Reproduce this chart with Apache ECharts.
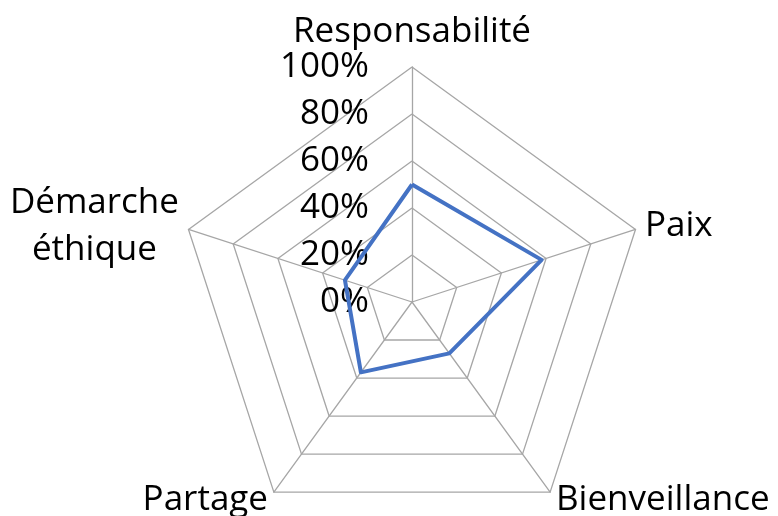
<!DOCTYPE html>
<html><head><meta charset="utf-8">
<script src="https://cdn.jsdelivr.net/npm/echarts@6/dist/echarts.min.js"></script>
<style>html,body{margin:0;padding:0;background:#fff;}#c{width:778px;height:516px;}</style>
</head><body><div id="c"></div>
<script>
// Categories in clockwise order starting at the top
const categories = ['Responsabilité', 'Paix', 'Bienveillance', 'Partage', 'Démarche\néthique'];
const values = [50, 58, 27, 37, 30];
const maxValue = 100;
const tickLabels = ['0%', '20%', '40%', '60%', '80%', '100%'];

// ECharts radar lays indicators counter-clockwise; reorder to match
const order = [0, 4, 3, 2, 1];
const FONT = 'Open Sans';
const FS = 35;
const indicators = order.map((i, k) => ({
  name: categories[i], min: 0, max: maxValue,
  axisLabel: { show: k === 0 }
}));
const seriesData = order.map(i => values[i]);

const chart = echarts.init(document.getElementById('c'), null, { renderer: 'canvas' });
chart.setOption({
  animation: false,
  radar: {
    center: [412, 302],
    radius: 235,
    startAngle: 90,
    splitNumber: 5,
    shape: 'polygon',
    indicator: indicators,
    axisName: {
      color: '#000', fontFamily: FONT, fontSize: FS,
      formatter: v => v.split('\n').map(s => '{c|' + s + '}').join('\n'),
      rich: { c: { align: 'center', fontFamily: FONT, fontSize: FS, color: '#000', lineHeight: 47 } }
    },
    nameGap: 10,
    axisLine: { show: true, lineStyle: { color: '#a6a6a6', width: 1.3 } },
    splitLine: { show: true, lineStyle: { color: '#a6a6a6', width: 1.3 } },
    splitArea: { show: false },
    axisTick: { show: false },
    axisLabel: {
      show: true, color: '#000', fontFamily: FONT, fontSize: FS, margin: 43,
      formatter: (v) => tickLabels[Math.round(v / 20)] || ''
    }
  },
  series: [{
    type: 'radar',
    symbol: 'none',
    lineStyle: { color: '#4472c4', width: 4 },
    data: [{ value: seriesData }]
  }]
});
</script></body></html>
